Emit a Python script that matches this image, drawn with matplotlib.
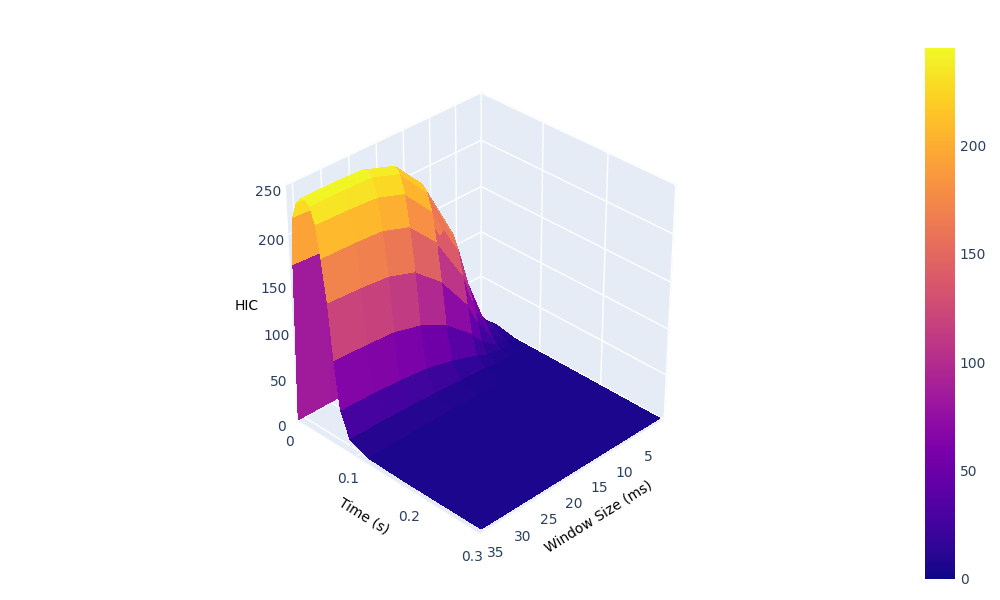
import numpy as np
import matplotlib
matplotlib.use("Agg")
import matplotlib.pyplot as plt
from matplotlib import cm, colors

times = [0.0, 0.004, 0.008, 0.015, 0.022, 0.03, 0.037, 0.045, 0.052, 0.06, 0.067, 0.075, 0.09, 0.12, 0.18, 0.25, 0.30]
windows = [1, 3, 5, 8, 10, 15, 20, 25, 30, 36]
hic_w1 = [0, 2, 4, 6, 8, 9, 9, 8, 7, 6, 5, 5, 5, 5, 5, 5, 5]
hic_w3 = [0, 5, 10, 15, 18, 20, 20, 18, 15, 12, 9, 7, 6, 5, 5, 5, 5]
hic_w5 = [0, 10, 25, 32, 35, 36, 35, 32, 26, 18, 12, 8, 6, 5, 5, 5, 5]
hic_w8 = [0, 40, 70, 85, 90, 92, 88, 80, 65, 45, 25, 12, 7, 5, 5, 5, 5]
hic_w10 = [0, 70, 110, 130, 140, 142, 138, 125, 100, 70, 40, 18, 8, 6, 5, 5, 5]
hic_w15 = [0, 120, 170, 190, 200, 203, 198, 180, 150, 110, 65, 28, 10, 6, 5, 5, 5]
hic_w20 = [0, 150, 205, 225, 232, 235, 230, 212, 180, 135, 80, 35, 12, 6, 5, 5, 5]
hic_w25 = [0, 165, 215, 235, 242, 244, 240, 222, 190, 145, 88, 38, 13, 6, 5, 5, 5]
hic_w30 = [0, 168, 218, 236, 243, 245, 241, 224, 192, 148, 90, 40, 14, 6, 5, 5, 5]
hic_w36 = [0, 170, 220, 237, 243, 245, 241, 225, 193, 150, 92, 41, 14, 6, 5, 5, 5]

Z = np.array([hic_w1, hic_w3, hic_w5, hic_w8, hic_w10, hic_w15, hic_w20,
              hic_w25, hic_w30, hic_w36], float)
X, Y = np.meshgrid(windows, times, indexing="ij")

fig = plt.figure(figsize=(10, 6), dpi=100)
ax = fig.add_axes([0.16, 0.1, 0.63, 0.76], projection="3d")
norm = colors.Normalize(0, Z.max())
ax.plot_surface(X, Y, Z, cmap="plasma", norm=norm, rstride=1, cstride=1,
                linewidth=0, antialiased=False, shade=False)
ax.view_init(elev=33, azim=45)
pane = (0.898, 0.925, 0.965, 1.0)
for a in (ax.xaxis, ax.yaxis, ax.zaxis):
    a.set_pane_color(pane)
    a._axinfo["grid"]["color"] = "white"
    a._axinfo["grid"]["linewidth"] = 1.0
    a.line.set_color((1, 1, 1, 0))
    a._axinfo["tick"]["inward_factor"] = 0
    a._axinfo["tick"]["outward_factor"] = 0
tc = "#2a3f5f"
ax.set_xlim(0, 36); ax.set_ylim(0, 0.3); ax.set_zlim(0, 250)
ax.set_xticks([5, 10, 15, 20, 25, 30, 35])
ax.set_yticks([0, 0.1, 0.2, 0.3]); ax.set_yticklabels(["0", "0.1", "0.2", "0.3"])
ax.set_zticks([0, 50, 100, 150, 200, 250])
ax.tick_params(colors=tc, labelsize=10, pad=0)
ax.set_xlabel("Window Size (ms)", fontsize=10, labelpad=0)
ax.set_ylabel("Time (s)", fontsize=10, labelpad=0)
ax.set_zlabel("HIC", fontsize=10, labelpad=0)
ax.set_box_aspect((1, 1, 1.05))

cax = fig.add_axes([0.925, 0.035, 0.03, 0.885])
cb = fig.colorbar(cm.ScalarMappable(norm=norm, cmap="plasma"), cax=cax)
cb.set_ticks([0, 50, 100, 150, 200])
cb.outline.set_visible(False)
cax.tick_params(colors=tc, labelsize=10, length=0)
fig.savefig("out.png", dpi=100)
